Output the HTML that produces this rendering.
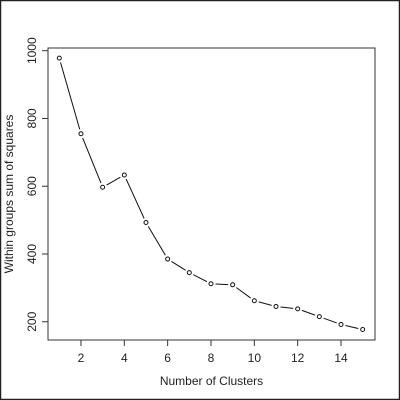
<!DOCTYPE html>
<html><head><meta charset="utf-8"><style>
html,body{margin:0;padding:0;background:#fff}
svg{display:block}
text{font-family:"Liberation Sans",sans-serif;fill:#222}
</style></head><body>
<svg width="400" height="400" viewBox="0 0 400 400">
<rect x="0.5" y="0.5" width="399" height="399" fill="#fff" stroke="#222" stroke-width="1.5"/>
<rect x="48" y="48" width="327" height="292" fill="none" stroke="#333" stroke-width="1"/>
<g id="axes"></g>
<g id="marks"></g>
<text x="211.5" y="385" font-size="12" text-anchor="middle">Number of Clusters</text>
<text transform="translate(13,194) rotate(-90)" font-size="12" text-anchor="middle">Within groups sum of squares</text>
</svg>
<script>
const clusters=[1,2,3,4,5,6,7,8,9,10,11,12,13,14,15];
const wss=[978,755,597,633,493,385,345,312,309,262,245,238,215,192,177];
const xTicks=[2,4,6,8,10,12,14];
const yTicks=[200,400,600,800,1000];
const NS="http://www.w3.org/2000/svg";
function xs(v){return 59.3+(v-1)*21.67;}
function ys(v){return 50.7+(1000-v)*0.3388;}
const axes=document.getElementById('axes'),marks=document.getElementById('marks');
function mk(t,a,p){const e=document.createElementNS(NS,t);for(const k in a)e.setAttribute(k,a[k]);p.appendChild(e);return e;}
for(const t of xTicks){
 const l=mk('line',{x1:xs(t),x2:xs(t),y1:340,y2:346,stroke:'#333'},axes);
 
 
 const tx=mk('text',{x:xs(t),y:362,'font-size':12,'text-anchor':'middle'},axes);tx.textContent=t;
 
 
}
for(const t of yTicks){
 const l=mk('line',{x1:42,x2:48,y1:ys(t),y2:ys(t),stroke:'#333'},axes);
 
 
 const tx=mk('text',{transform:`translate(36,${ys(t)}) rotate(-90)`,'font-size':12,'text-anchor':'middle'},axes);tx.textContent=t;
 
 
}
for(let i=0;i<clusters.length-1;i++){
 const x1=xs(clusters[i]),y1=ys(wss[i]),x2=xs(clusters[i+1]),y2=ys(wss[i+1]);
 const d=Math.hypot(x2-x1,y2-y1),g=4.5;
 if(d>2*g){const ux=(x2-x1)/d,uy=(y2-y1)/d;
  const l=mk('line',{x1:x1+ux*g,y1:y1+uy*g,x2:x2-ux*g,y2:y2-uy*g,stroke:'#111','stroke-width':1},marks);
  
  }
}
for(let i=0;i<clusters.length;i++){
 const c=mk('circle',{cx:xs(clusters[i]),cy:ys(wss[i]),r:2,fill:'none',stroke:'#111','stroke-width':1},marks);
 
 
}
</script>
</body></html>
